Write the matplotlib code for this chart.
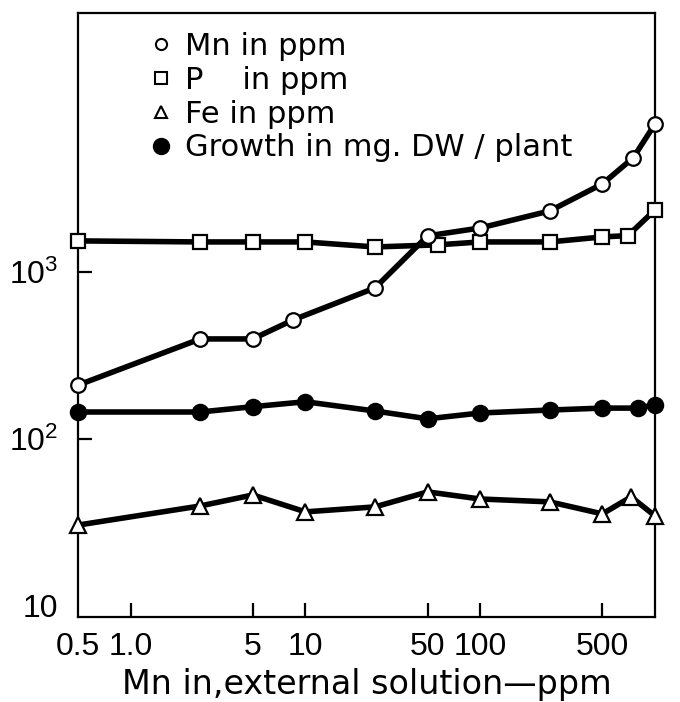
import matplotlib
matplotlib.use("Agg")
import matplotlib.pyplot as plt
from matplotlib.lines import Line2D

# ---- data ----
mn_x = [0.5, 2.5, 5, 8.5, 25, 50, 100, 250, 500, 750, 1000]
mn_y = [210, 397, 397, 516, 802, 1644, 1833, 2318, 3365, 4820, 7690]

p_x = [0.5, 2.5, 5, 10, 25, 57, 100, 250, 500, 700, 1000]
p_y = [1534, 1512, 1512, 1512, 1411, 1452, 1512, 1512, 1620, 1650, 2350]

gr_x = [0.5, 2.5, 5, 10, 25, 50, 100, 250, 500, 800, 1000]
gr_y = [145, 145, 156, 167, 147, 132, 143, 149, 153, 153, 160]

fe_x = [0.5, 2.5, 5, 10, 25, 50, 100, 250, 500, 730, 1000]
fe_y = [30.5, 39.7, 46.2, 36.6, 39.2, 48.2, 43.7, 42.0, 35.6, 45.0, 34.6]

xticks = [0.5, 1.0, 5, 10, 50, 100, 500]
xtick_labels = ["0.5", "1.0", "5", "10", "50", "100", "500"]
yticks = [10, 100, 1000]
ytick_labels = ["10", "$10^2$", "$10^3$"]

legend_labels = ["Mn in ppm", "P    in ppm", "Fe in ppm", "Growth in mg. DW / plant"]
xlabel = "Mn in,external solution\u2014ppm"

# ---- figure ----
plt.rcParams["font.family"] = ["DejaVu Sans"]
plt.rcParams["mathtext.fontset"] = "custom"
plt.rcParams["mathtext.rm"] = "Liberation Sans"
plt.rcParams["mathtext.it"] = "Liberation Sans"
plt.rcParams["mathtext.bf"] = "Liberation Sans"
fig = plt.figure(figsize=(6.8, 7.02), dpi=100)
ax = fig.add_axes([78 / 680, 1 - 617 / 702, (655 - 78) / 680, (617 - 13) / 702])
ax.set_xscale("log")
ax.set_yscale("log")
ax.set_xlim(0.5, 1000)
ax.set_ylim(8.59, 35500)

lw = 4
common = dict(color="black", lw=lw, clip_on=False, markeredgewidth=1.6,
              markeredgecolor="black")
ax.plot(p_x, p_y, marker="s", ms=10, mfc="white", zorder=3, **common)
ax.plot(mn_x, mn_y, marker="o", ms=10.5, mfc="white", zorder=4, **common)
ax.plot(gr_x, gr_y, marker="o", ms=11, mfc="black", zorder=3, **common)
ax.plot(fe_x, fe_y, marker="^", ms=12, mfc="white", zorder=3, **common)

# ticks
ax.minorticks_off()
ax.set_xticks(xticks)
ax.set_xticklabels(xtick_labels)
ax.set_yticks(yticks)
ax.set_yticklabels(ytick_labels)
ax.tick_params(axis="both", which="major", direction="in", length=10, width=1.6)
ax.tick_params(axis="x", pad=11, labelsize=23)
ax.tick_params(axis="y", pad=14, labelsize=23)
for lab in ax.get_xticklabels() + ax.get_yticklabels():
    lab.set_family(["Liberation Sans", "DejaVu Sans"])
ax.xaxis.get_major_ticks()[0].tick1line.set_visible(False)
ax.yaxis.get_major_ticks()[0].tick1line.set_visible(False)

for s in ax.spines.values():
    s.set_linewidth(1.6)

ax.set_xlabel(xlabel, fontsize=24, labelpad=4)

handles = [
    Line2D([], [], ls="none", marker="o", ms=8, mfc="white", mec="black", mew=1.5),
    Line2D([], [], ls="none", marker="s", ms=9, mfc="white", mec="black", mew=1.5),
    Line2D([], [], ls="none", marker="^", ms=8, mfc="white", mec="black", mew=1.5),
    Line2D([], [], ls="none", marker="o", ms=11, mfc="black", mec="black", mew=1.5),
]
ax.legend(handles, legend_labels, loc="upper left", bbox_to_anchor=(0.117, 0.969),
          frameon=False, fontsize=22, handlelength=1.0, handletextpad=0.3,
          labelspacing=0.16, borderpad=0, borderaxespad=0)

fig.savefig("out.png", dpi=100)
